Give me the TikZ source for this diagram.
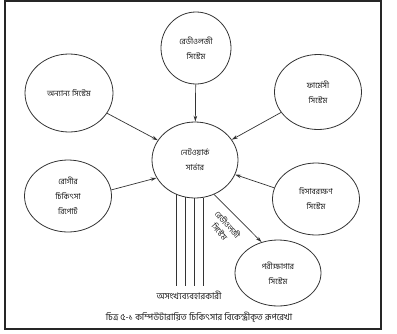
\documentclass[tikz,border=0pt]{standalone}
\usepackage{fontspec}
\newfontfamily\bn[Script=Bengali]{Hind Siliguri}
\usetikzlibrary{shapes.geometric,arrows.meta}
\begin{document}
\begin{tikzpicture}[x=1pt,y=-1pt,
  sys/.style={draw=black!80,line width=0.8pt,ellipse,inner sep=0pt,align=center,
    font=\bn\fontsize{8}{15}\selectfont,text=black!90},
  link/.style={draw=black!80,line width=0.7pt},
  arr/.style={link,-{Stealth[length=6pt,width=3.6pt]}},
  lbl/.style={font=\bn\fontsize{8}{10.5}\selectfont,text=black!90,inner sep=0pt,align=center}]
\useasboundingbox (0,0) rectangle (397,333);
\draw[line width=1.2pt,draw=black!85] (5,1) rectangle (381,329);
\node[sys,minimum width=70pt,minimum height=72pt] (rad) at (196,48) {রেডীওলজী\\সিস্টেম};
\node[sys,minimum width=88pt,minimum height=78pt] (oth) at (69,93) {অন্যান্য সিস্টেম};
\node[sys,minimum width=87pt,minimum height=75pt] (pha) at (318,92) {ফার্মেসী\\সিস্টেম};
\node[sys,minimum width=86pt,minimum height=76pt] (srv) at (195,160) {নেটওয়ার্ক\\সার্ভার};
\node[sys,minimum width=87pt,minimum height=72pt] (pat) at (68,196) {রোগীর\\চিকিৎসা\\রিপোর্ট};
\node[sys,minimum width=87pt,minimum height=72pt] (acc) at (316,199) {হিসাবরক্ষণ\\সিস্টেম};
\node[sys,minimum width=86pt,minimum height=66pt] (lab) at (278,273) {পরীক্ষাগার\\সিস্টেম};
\draw[arr] (rad) -- (srv);
\draw[arr] (oth) -- (srv);
\draw[arr] (pha) -- (srv);
\draw[arr] (pat.8) -- (srv.205);
\draw[arr] (acc.165) -- (srv.-20);
\draw[arr] (srv.-61) -- (lab.118);
\node[lbl,rotate=-49] (rlb) at (224,228) {রেডীওলজী\\সিস্টেম};
\coordinate (u) at (190,286);
\draw[link] (srv.-119) -- (srv.-119 |- u);
\draw[link] (srv.-105) -- (srv.-105 |- u);
\draw[link] (srv.-91.5) -- (srv.-91.5 |- u);
\draw[link] (srv.-78) -- (srv.-78 |- u);
\node[lbl,font=\bn\fontsize{9}{11}\selectfont] (usr) at (189,295) {অসংখ্যব্যবহারকারী};
\node[lbl,font=\bn\fontsize{9}{11}\selectfont] (cap) at (199,317) {চিত্র ৫-১ কম্পিউটারায়িত চিকিৎসার বিকেন্দ্রীকৃত রূপরেখা};
\end{tikzpicture}
\end{document}
